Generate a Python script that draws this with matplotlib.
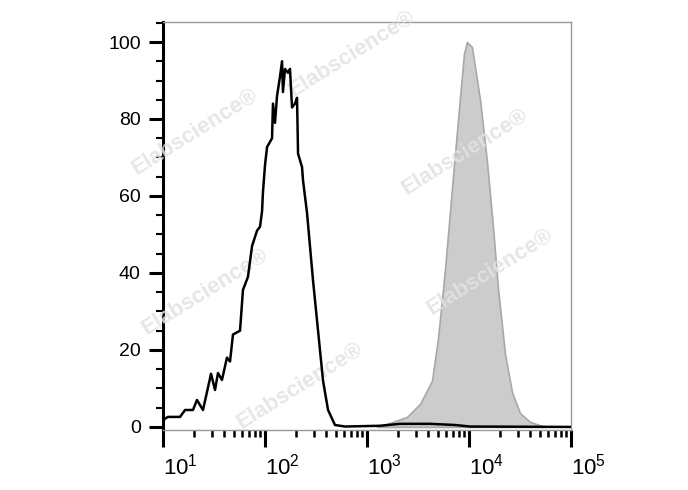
import matplotlib
matplotlib.use("Agg")
import matplotlib.pyplot as plt
import numpy as np
from matplotlib.ticker import FixedLocator, LogLocator, NullFormatter

# Unstained / negative histogram (black outline), x given as log10 of intensity
neg_log = [1.000, 1.010, 1.049, 1.167, 1.216, 1.294, 1.333, 1.392, 1.471, 1.510,
           1.539, 1.578, 1.627, 1.657, 1.686, 1.755, 1.784, 1.833, 1.873, 1.922,
           1.951, 1.971, 1.980, 2.000, 2.020, 2.069, 2.078, 2.098, 2.118, 2.147,
           2.167, 2.176, 2.196, 2.225, 2.245, 2.265, 2.294, 2.314, 2.324, 2.363,
           2.373, 2.412, 2.471, 2.520, 2.569, 2.618, 2.686, 2.784, 3.127, 3.324,
           3.618, 3.863, 4.010, 4.990]
neg_count = [0.0, 2.0, 2.6, 2.6, 4.4, 4.4, 7.0, 4.4, 13.8, 9.6,
             14.0, 12.2, 18.0, 17.0, 24.0, 25.0, 35.6, 39.0, 47.0, 51.0,
             52.0, 56.0, 61.0, 68.0, 72.7, 75.0, 84.0, 79.0, 86.0, 91.0,
             95.0, 87.0, 93.0, 92.0, 93.0, 83.0, 84.0, 85.5, 71.0, 67.5,
             64.0, 55.6, 38.0, 25.0, 12.0, 4.4, 0.5, 0.1, 0.3, 0.8,
             0.8, 0.5, 0.1, 0.0]

# Stained histogram (grey filled)
pos_log = [3.098, 3.255, 3.392, 3.520, 3.637, 3.696, 3.765, 3.833, 3.912, 3.951,
           3.980, 4.029, 4.108, 4.176, 4.235, 4.284, 4.353, 4.422, 4.500, 4.598,
           4.745]
pos_count = [0.0, 1.3, 2.6, 6.0, 12.0, 23.0, 41.0, 62.0, 85.7, 97.0,
             100.0, 98.7, 85.0, 69.0, 52.0, 36.0, 19.0, 9.0, 3.6, 1.3,
             0.0]

x_ticks = [1e1, 1e2, 1e3, 1e4, 1e5]
x_labels = ["$10^{1}$", "$10^{2}$", "$10^{3}$", "$10^{4}$", "$10^{5}$"]
y_ticks = [0, 20, 40, 60, 80, 100]

plt.rcParams["font.family"] = ["Liberation Sans", "DejaVu Sans"]
plt.rcParams["mathtext.fontset"] = "custom"
plt.rcParams["mathtext.rm"] = "Liberation Sans"
plt.rcParams["mathtext.it"] = "Liberation Sans"

fig = plt.figure(figsize=(6.88, 4.9), dpi=100)
ax = fig.add_axes([163 / 688, 60 / 490, 408 / 688, 408 / 490])

neg_x = 10 ** np.array(neg_log)
pos_x = 10 ** np.array(pos_log)

ax.fill_between(pos_x, pos_count, 0, facecolor="#cccccc", edgecolor="#a8a8a8",
                linewidth=1.2, zorder=2)
ax.plot(neg_x, neg_count, color="black", linewidth=1.8, zorder=4)

ax.set_xscale("log")
ax.set_xlim(10, 1e5)
ax.set_ylim(-0.8, 105.2)

ax.xaxis.set_major_locator(FixedLocator(x_ticks))
ax.set_xticklabels(x_labels, fontsize=16)
ax.xaxis.set_minor_locator(LogLocator(base=10, subs=np.arange(2, 10)))
ax.xaxis.set_minor_formatter(NullFormatter())
for lab in ax.get_xticklabels():
    lab.set_horizontalalignment("left")

ax.set_yticks(y_ticks)
ax.set_yticklabels([str(v) for v in y_ticks], fontsize=14)
ax.set_yticks(np.arange(0, 106, 5), minor=True)

ax.tick_params(axis="x", which="major", direction="out", length=12, width=2.2,
               pad=5, color="black")
ax.tick_params(axis="x", which="minor", direction="out", length=5, width=1.8,
               color="black")
ax.tick_params(axis="y", which="major", direction="out", length=10, width=2.2,
               pad=6, color="black")
ax.tick_params(axis="y", which="minor", direction="out", length=5, width=1.5,
               color="black")

for side in ["top", "right", "bottom"]:
    ax.spines[side].set_color("#999999")
    ax.spines[side].set_linewidth(1.0)
ax.spines["left"].set_color("black")
ax.spines["left"].set_linewidth(2.2)

# Watermarks
marks = [(195, 132), (352, 54), (465, 152), (205, 292), (490, 272), (300, 386)]
for px, py in marks:
    ax.text((px - 163) / 408, (430 - py) / 408, "Elabscience®",
            transform=ax.transAxes, rotation=32, ha="center", va="center",
            fontsize=16, fontweight="bold", color="#e2e2e2", alpha=0.85,
            zorder=3, clip_on=False)

fig.savefig("out.png", dpi=100)
